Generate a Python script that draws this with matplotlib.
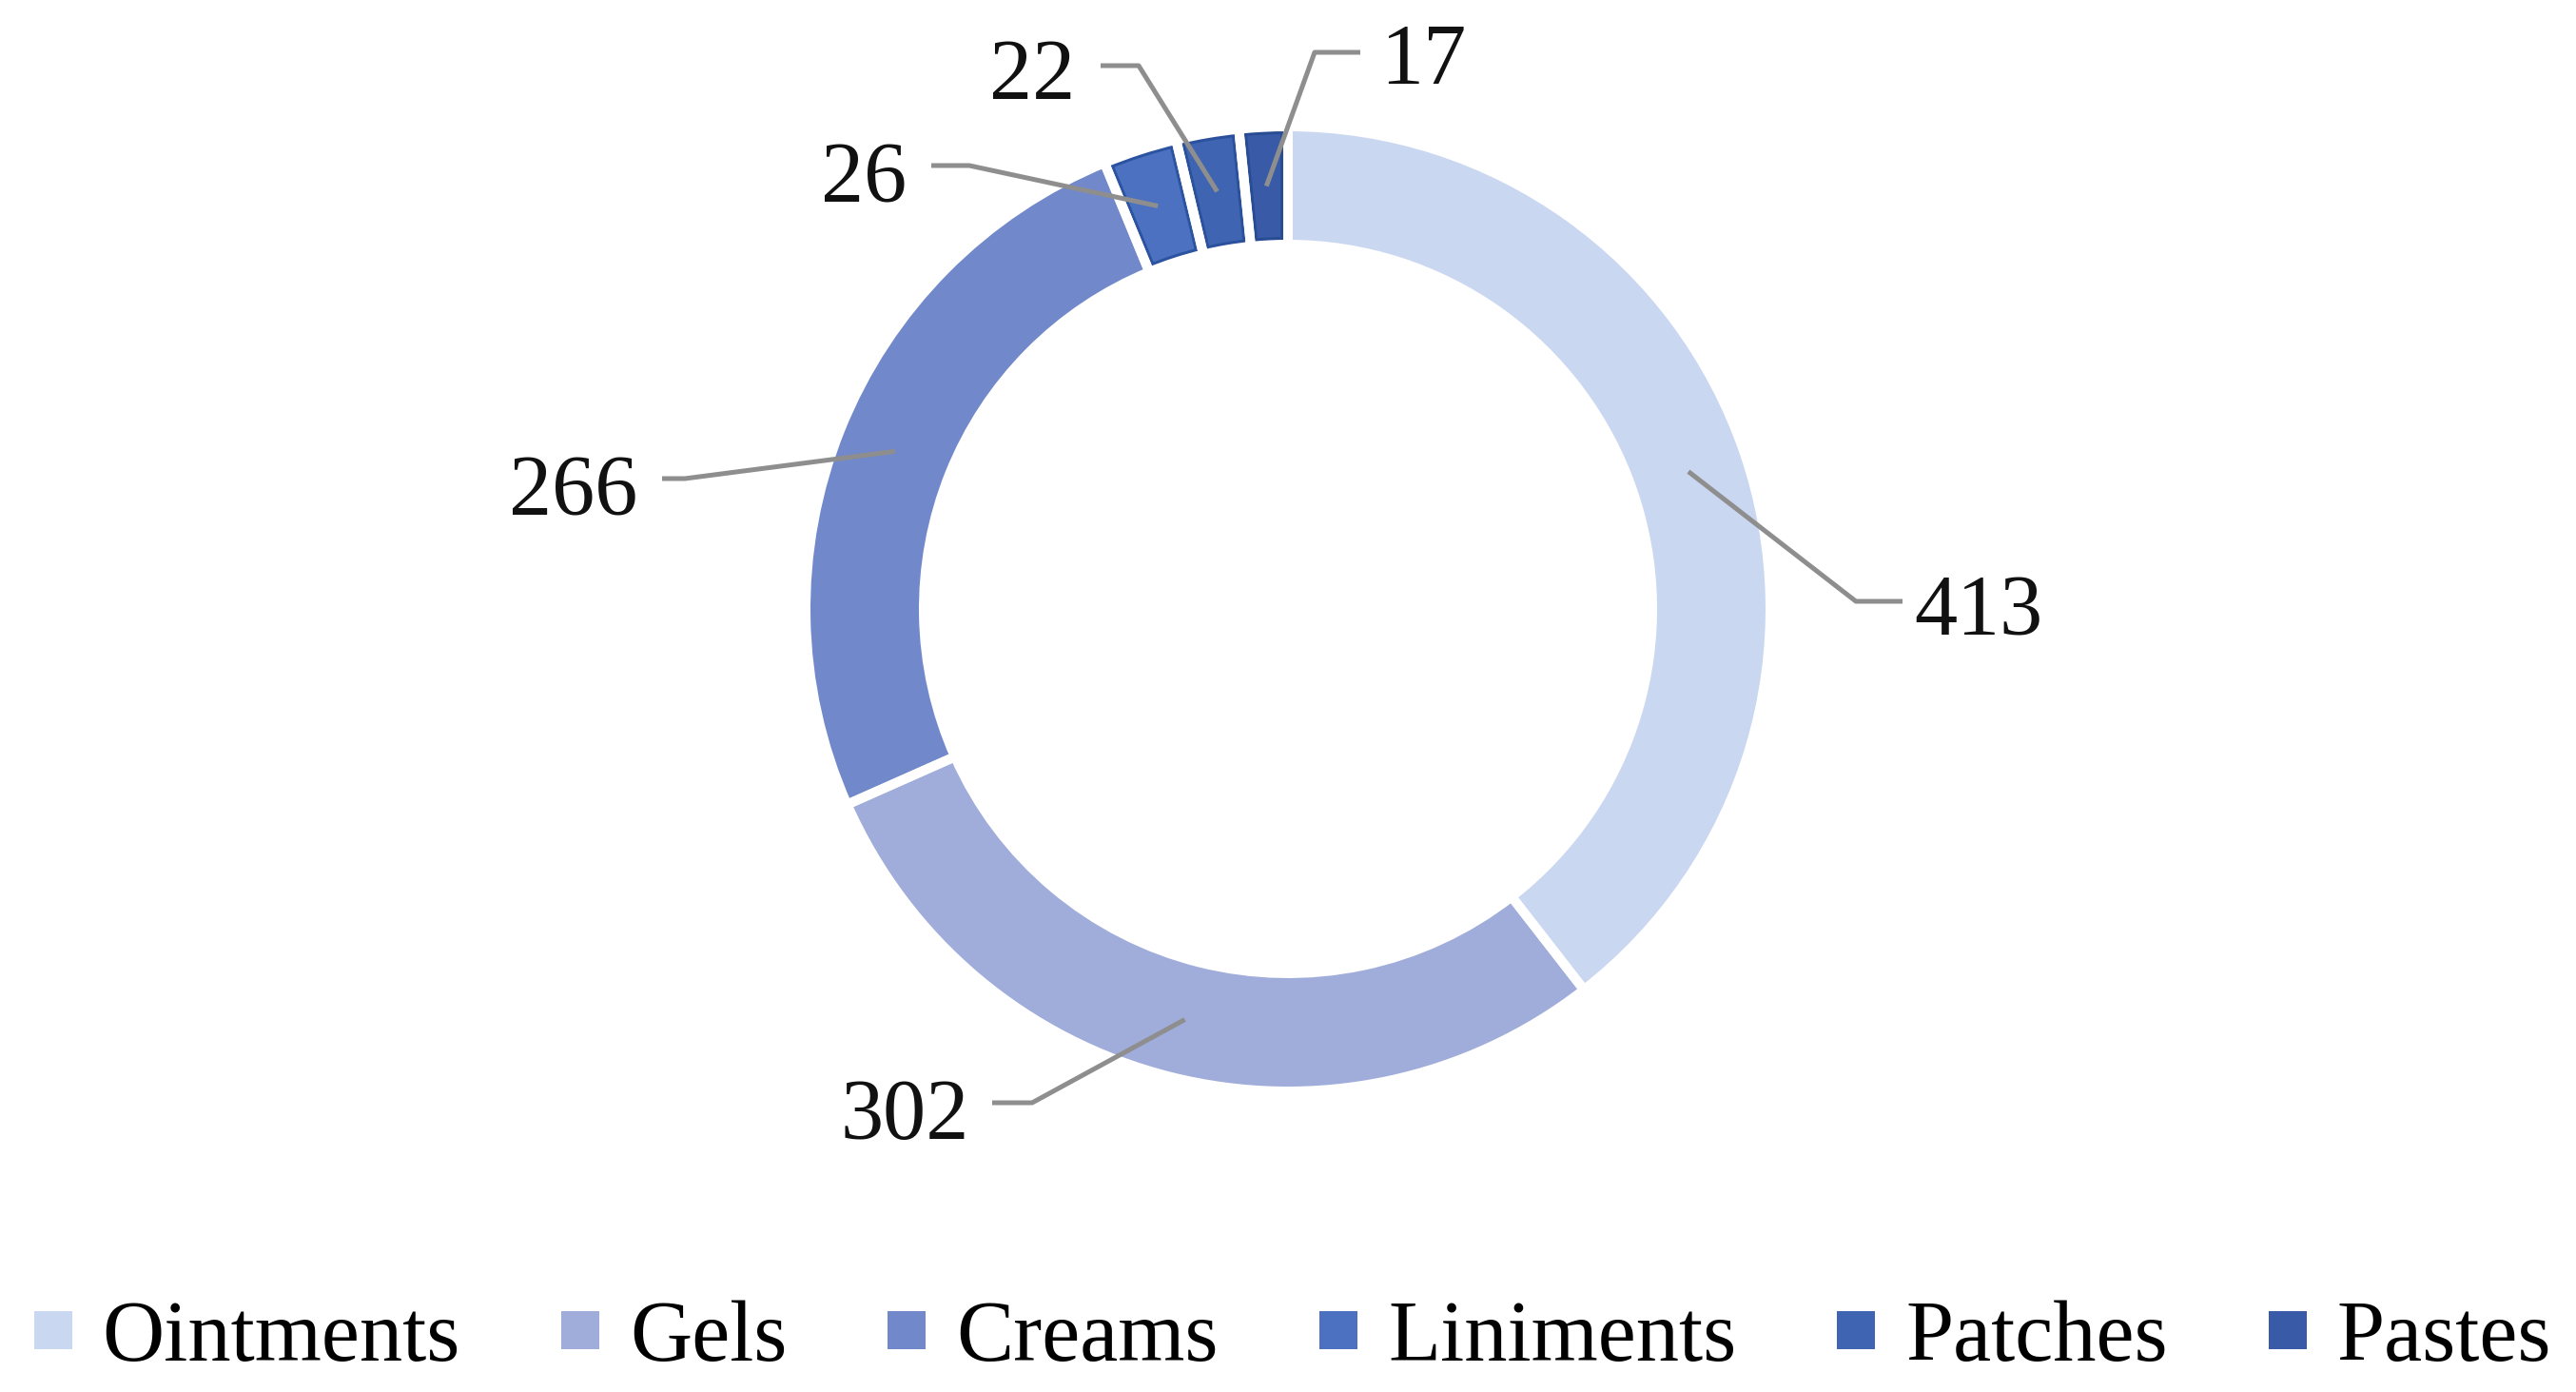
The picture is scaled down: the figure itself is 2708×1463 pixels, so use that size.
import matplotlib
matplotlib.use("Agg")
import matplotlib.pyplot as plt
from matplotlib.patches import Patch
import numpy as np

# ---- data ----
categories = ["Ointments", "Gels", "Creams", "Liniments", "Patches", "Pastes"]
values = [413, 302, 266, 26, 22, 17]
colors = ["#CAD7F1", "#A0ADDB", "#7189CB", "#4B71C0", "#3F64B1", "#395BA7"]
outline_colors = ["#CAD7F1", "#A0ADDB", "#7189CB", "#2B539F", "#2B519C", "#284C93"]

W_PX, H_PX = 2708, 1463
DPI = 100
FONT = "Liberation Serif"
FS = 65

fig = plt.figure(figsize=(W_PX / DPI, H_PX / DPI), dpi=DPI, facecolor="white")
ax = fig.add_axes([0, 0, 1, 1])

def Y(y_img):
    return H_PX - y_img

cx, cy = 1354, Y(640)
R_out, R_in = 507, 383

wedges, _ = ax.pie(values, colors=colors, startangle=90, counterclock=False,
                   radius=R_out, center=(cx, cy),
                   wedgeprops=dict(width=R_out - R_in, linewidth=0))
for w, ec in zip(wedges, outline_colors):
    w.set_edgecolor(ec)
    w.set_linewidth(16 * 72 / DPI)
    w.set_clip_on(True)
    w.set_clip_path(w)

# white separators on top
sep, _ = ax.pie(values, startangle=90, counterclock=False, radius=R_out, center=(cx, cy),
                wedgeprops=dict(width=R_out - R_in, facecolor="none", edgecolor="white",
                                linewidth=10 * 72 / DPI))

# ---- leader lines and labels ----
total = float(sum(values))
cum = np.cumsum([0] + values[:-1])
mid_angles = [np.deg2rad(90 - (c + v / 2) / total * 360) for c, v in zip(cum, values)]
r_mid = (R_out + R_in) / 2

# label layout: (knee, end, text anchor, ha)  in image pixel coords
layout = [
    ((1951, 632), (2000, 632), (2012, 667), "left"),
    ((1085, 1159), (1043, 1159), (1019, 1197), "right"),
    ((720, 503), (696, 503), (670, 541), "right"),
    ((1019, 174), (979, 174), (953, 212), "right"),
    ((1197, 69), (1157, 69), (1130, 104), "right"),
    ((1382, 55), (1430, 55), (1451, 88), "left"),
]

for v, ang, (knee, end, tpos, ha) in zip(values, mid_angles, layout):
    ax_ = cx + r_mid * np.cos(ang)
    ay_ = cy + r_mid * np.sin(ang)
    ax.plot([ax_, knee[0], end[0]], [ay_, Y(knee[1]), Y(end[1])],
            color="#8E8E8E", lw=5 * 72 / DPI, solid_capstyle="butt",
            solid_joinstyle="round", zorder=5)
    ax.text(tpos[0], Y(tpos[1]), str(v), ha=ha, va="baseline",
            fontsize=FS, family=FONT, color="#111111", zorder=6)

ax.set_xlim(0, W_PX)
ax.set_ylim(0, H_PX)
ax.set_aspect("auto")
ax.axis("off")

# ---- legend ----
handles = [Patch(facecolor=c, edgecolor="none", label=l) for c, l in zip(colors, categories)]
F_px = FS * DPI / 72
fig.legend(handles=handles, loc="center", ncol=6, frameon=False,
           bbox_to_anchor=(1359 / W_PX, 1 - 1408 / H_PX),
           prop=dict(family=FONT, size=FS),
           handlelength=40 / F_px, handleheight=0.305,
           handletextpad=32 / F_px, columnspacing=106 / F_px, borderpad=0)

fig.savefig("out.png", dpi=DPI, facecolor="white")
